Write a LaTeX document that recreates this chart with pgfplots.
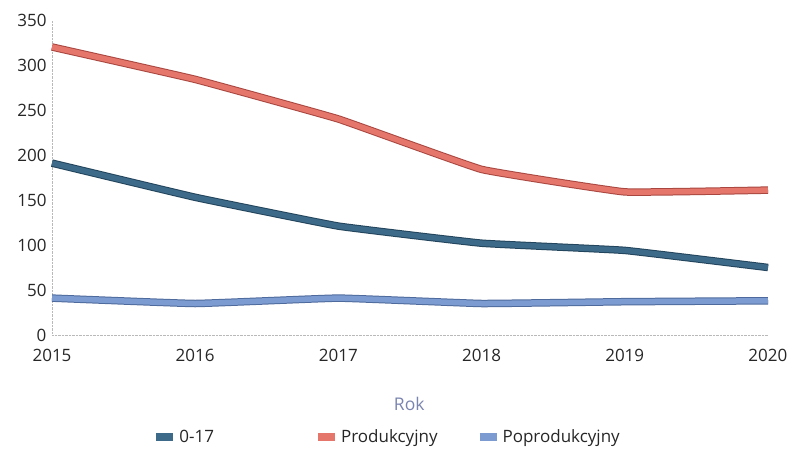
\documentclass[border=0pt]{standalone}
\usepackage{pgfplots}
\pgfplotsset{compat=1.18}
\usepackage{fontspec}
\setmainfont{Open Sans}
\definecolor{cA}{HTML}{3D6A88}
\definecolor{cAd}{HTML}{22445C}
\definecolor{cB}{HTML}{E5766B}
\definecolor{cBd}{HTML}{A8463F}
\definecolor{cC}{HTML}{7C9BD0}
\definecolor{cCd}{HTML}{4E6A9C}
\definecolor{rokc}{HTML}{7A84B0}
\pgfplotstableread{
year a b c
2015 191 320 41
2016 153 284 35
2017 121 240 41
2018 102 184 35
2019 94 159 37
2020 75 161 38
}\datatable
\begin{document}
\begin{tikzpicture}
\useasboundingbox (-52pt,-124pt) rectangle (740pt,335pt);
\begin{axis}[
  at={(0,0)}, anchor=south west,
  scale only axis, width=716pt, height=315pt,
  xmin=2015, xmax=2020, ymin=0, ymax=350,
  xtick={2015,...,2020}, ytick={0,50,...,350},
  xticklabel={\pgfmathprintnumber[1000 sep={}]{\tick}},
  /pgf/number format/assume math mode=true,
  axis x line=bottom, axis y line=left,
  axis line style={gray!55, densely dotted, -},
  major tick length=0pt,
  tick label style={font=\fontsize{17}{20}\selectfont, text=black!85},
  xticklabel style={yshift=-11pt},
  yticklabel style={xshift=-2pt},
  xlabel={Rok},
  xlabel style={font=\fontsize{17.5}{20}\selectfont, text=rokc, at={(axis description cs:0.499,-0.22)}, anchor=center},
  clip=false,
  legend columns=3,
  legend style={at={(0.468,-0.324)}, anchor=center, draw=none, fill=none,
    font=\fontsize{17}{20}\selectfont, text=black!85,
    /tikz/every even column/.append style={column sep=36pt}},
  legend image code/.code={\draw[#1, line width=8pt, line cap=butt] (0pt,0pt) -- (17pt,0pt);},
]
\addplot[cAd, line width=7.5pt, smooth, tension=0.15, forget plot] table[x=year,y=a]{\datatable};
\addplot[cBd, line width=7.5pt, smooth, tension=0.15, forget plot] table[x=year,y=b]{\datatable};
\addplot[cCd, line width=7.5pt, smooth, tension=0.15, forget plot] table[x=year,y=c]{\datatable};
\addplot[cA, line width=5.5pt, smooth, tension=0.15] table[x=year,y=a]{\datatable};
\addplot[cB, line width=5.5pt, smooth, tension=0.15] table[x=year,y=b]{\datatable};
\addplot[cC, line width=5.5pt, smooth, tension=0.15] table[x=year,y=c]{\datatable};
\legend{0-17\hspace*{62pt}, Produkcyjny, Poprodukcyjny}
\end{axis}
\end{tikzpicture}
\end{document}
